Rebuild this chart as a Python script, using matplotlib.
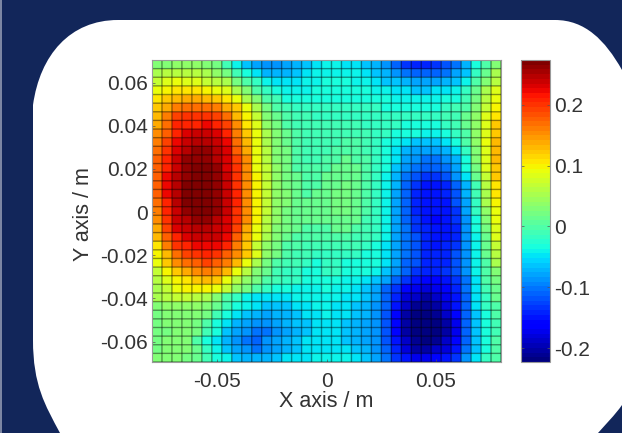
import matplotlib
matplotlib.use('Agg')
import matplotlib.pyplot as plt
import numpy as np
from matplotlib.patches import PathPatch
from matplotlib.path import Path

plt.rcParams['font.family'] = ['Liberation Sans', 'DejaVu Sans']

# field values in hundredths, first row is the top of the map
field = [
    [3,3,4,4,4,3,2,-1,-4,-6,-8,-9,-9,-8,-7,-6,-5,-4,-4,-5,-5,-6,-7,-9,-11,-13,-14,-14,-13,-12,-10,-7,-3,0,3],
    [5,6,6,6,6,5,4,2,-1,-3,-5,-7,-7,-7,-6,-5,-4,-4,-4,-4,-4,-5,-6,-7,-9,-10,-11,-11,-11,-10,-8,-6,-2,1,5],
    [7,8,9,8,8,7,6,5,2,0,-2,-4,-5,-5,-5,-4,-4,-3,-3,-3,-4,-4,-5,-6,-6,-7,-8,-8,-8,-7,-6,-4,0,3,6],
    [9,10,11,11,11,10,9,8,5,3,0,-2,-3,-4,-4,-4,-3,-3,-3,-3,-3,-3,-4,-4,-5,-5,-6,-6,-5,-5,-4,-2,1,5,8],
    [11,12,13,14,14,13,12,11,9,5,3,0,-1,-3,-3,-3,-3,-3,-3,-3,-3,-3,-3,-3,-4,-4,-4,-4,-4,-3,-3,-1,2,6,9],
    [12,14,16,17,17,17,16,14,12,9,5,2,0,-1,-2,-2,-2,-2,-2,-2,-2,-2,-2,-3,-3,-3,-3,-3,-3,-2,-1,0,3,7,10],
    [13,16,19,20,20,20,19,17,13,10,7,3,1,0,-1,-1,-2,-2,-2,-2,-2,-2,-2,-2,-2,-2,-2,-2,-2,-1,-1,1,4,8,11],
    [14,17,21,21,21,22,21,19,15,11,8,4,2,0,-1,-1,-1,-1,-1,-1,-1,-2,-2,-2,-2,-3,-3,-3,-3,-2,-1,1,4,8,12],
    [15,18,21,23,24,24,23,21,16,12,9,5,3,1,0,-1,-1,-1,-1,-1,-1,-1,-2,-2,-3,-3,-3,-4,-4,-3,-2,0,4,8,12],
    [16,19,22,24,25,25,24,22,17,13,9,5,3,1,0,-1,-1,-1,-1,0,0,-1,-2,-3,-4,-5,-6,-6,-6,-5,-3,0,4,9,13],
    [17,20,23,25,26,26,25,23,18,14,9,6,3,2,0,-1,-1,-1,0,0,0,-1,-2,-3,-5,-7,-8,-8,-8,-7,-5,-2,3,8,13],
    [18,21,24,26,26,26,25,23,19,15,9,6,3,2,0,-1,-1,0,0,1,0,0,-2,-3,-5,-8,-9,-10,-10,-9,-7,-3,3,8,13],
    [18,21,24,26,27,27,26,23,20,15,9,7,4,2,0,0,0,0,1,1,1,0,-2,-3,-6,-9,-10,-11,-11,-10,-8,-3,2,8,12],
    [18,22,25,26,27,27,26,24,20,15,10,7,4,2,1,0,0,1,1,1,1,0,-2,-4,-7,-10,-12,-13,-13,-12,-9,-5,1,7,12],
    [18,22,25,27,27,27,26,24,20,15,10,7,4,2,1,0,0,1,1,2,1,0,-2,-4,-7,-11,-13,-15,-15,-14,-11,-7,-1,6,11],
    [18,22,25,27,27,27,26,24,21,15,10,7,4,3,1,0,1,1,2,2,1,0,-2,-4,-8,-11,-14,-15,-15,-14,-12,-7,-1,5,11],
    [17,21,25,27,27,27,26,24,21,15,10,7,4,3,1,1,1,1,2,2,1,0,-2,-4,-8,-11,-14,-15,-15,-15,-12,-8,-2,5,10],
    [16,21,24,26,27,27,26,24,20,15,10,7,4,2,1,1,1,1,2,2,1,0,-2,-4,-8,-11,-14,-15,-15,-15,-13,-8,-2,4,9],
    [15,20,24,25,26,26,25,23,20,15,10,6,4,2,1,1,1,1,1,1,1,-1,-2,-4,-8,-11,-13,-15,-16,-15,-13,-9,-3,3,9],
    [14,19,23,24,25,25,24,23,19,14,9,6,3,2,1,0,0,0,1,1,0,-1,-2,-4,-8,-10,-13,-14,-15,-15,-14,-9,-3,2,8],
    [13,18,21,23,24,24,24,22,18,13,9,5,3,1,0,0,0,0,0,0,-1,-1,-2,-4,-8,-10,-12,-14,-15,-15,-14,-9,-4,1,8],
    [11,16,20,21,22,22,22,21,16,12,7,4,2,0,0,-1,-1,-1,-1,-1,-1,-2,-3,-5,-8,-10,-12,-14,-15,-14,-13,-9,-4,1,7],
    [10,13,17,19,20,21,20,18,15,12,8,4,2,0,-1,-1,-2,-2,-2,-2,-2,-3,-3,-5,-8,-10,-12,-14,-14,-14,-12,-9,-4,1,6],
    [9,12,15,17,18,19,18,16,13,9,5,2,0,-1,-1,-2,-3,-2,-2,-3,-3,-3,-3,-5,-8,-11,-12,-14,-14,-14,-12,-9,-4,0,5],
    [7,10,12,14,15,16,15,13,9,6,3,1,-1,-2,-2,-3,-3,-2,-2,-3,-3,-3,-4,-6,-9,-11,-13,-14,-14,-13,-12,-9,-4,0,3],
    [6,8,10,11,12,13,12,9,6,4,2,0,-1,-2,-2,-3,-3,-3,-3,-4,-4,-5,-6,-8,-11,-13,-15,-16,-16,-15,-13,-10,-5,0,2],
    [5,7,9,10,10,10,9,7,4,2,0,-2,-3,-3,-4,-4,-4,-3,-4,-4,-5,-6,-8,-11,-13,-16,-17,-18,-17,-16,-14,-10,-5,-1,1],
    [5,6,7,7,6,5,3,0,-2,-4,-5,-5,-5,-5,-4,-4,-4,-4,-4,-5,-5,-6,-8,-11,-14,-18,-19,-20,-19,-17,-15,-11,-5,-2,1],
    [3,4,4,4,4,3,1,-1,-3,-4,-5,-6,-6,-6,-5,-5,-4,-4,-5,-5,-6,-7,-9,-11,-15,-19,-21,-21,-20,-18,-15,-11,-5,-2,0],
    [2,3,3,3,3,2,-1,-3,-5,-6,-7,-8,-7,-7,-6,-5,-5,-4,-5,-5,-6,-7,-9,-12,-16,-20,-22,-22,-21,-19,-16,-11,-6,-3,0],
    [2,3,3,3,2,0,-3,-5,-7,-8,-9,-9,-8,-7,-6,-6,-5,-5,-5,-6,-7,-8,-9,-12,-16,-20,-22,-23,-22,-20,-17,-11,-6,-3,-1],
    [2,2,3,3,2,-1,-3,-6,-8,-9,-10,-10,-9,-8,-7,-6,-5,-5,-5,-6,-7,-8,-9,-12,-16,-20,-22,-23,-22,-20,-17,-11,-6,-3,-1],
    [2,3,3,3,0,-3,-5,-7,-9,-10,-11,-9,-8,-7,-6,-5,-5,-5,-5,-6,-7,-8,-9,-12,-15,-19,-21,-22,-21,-19,-16,-11,-6,-3,0],
    [2,3,3,3,1,-2,-4,-6,-8,-9,-10,-9,-8,-7,-6,-5,-5,-5,-5,-5,-6,-7,-9,-11,-14,-18,-20,-20,-19,-18,-15,-10,-6,-3,0],
    [3,3,3,2,1,-1,-3,-4,-6,-7,-7,-7,-6,-5,-5,-5,-4,-4,-4,-4,-5,-6,-8,-10,-13,-15,-17,-17,-16,-15,-13,-9,-5,-2,0],
]
x_ticks = [-0.05, 0, 0.05]
x_labels = ['-0.05', '0', '0.05']
y_ticks = [-0.06, -0.04, -0.02, 0, 0.02, 0.04, 0.06]
y_labels = ['-0.06', '-0.04', '-0.02', '0', '0.02', '0.04', '0.06']
cbar_ticks = [-0.2, -0.1, 0, 0.1, 0.2]
cbar_labels = ['-0.2', '-0.1', '0', '0.1', '0.2']

W, H = 622.0, 433.0
NAVY = '#12265a'
TEXT = '#333333'


def pixel_axes(fig, x0, y0, x1, y1):
    return fig.add_axes([x0 / W, 1 - y1 / H, (x1 - x0) / W, (y1 - y0) / H])


fig = plt.figure(figsize=(6.22, 4.33), dpi=100, facecolor=NAVY)

# slide background with the white rounded panel
bg = fig.add_axes([0, 0, 1, 1], zorder=0)
bg.set_xlim(0, W)
bg.set_ylim(H, 0)
bg.axis('off')
verts = [(33, 105), (40, 55), (70, 20), (118, 20),
         (555, 20), (585, 20), (605, 40), (622, 70),
         (622, 405), (615, 415), (605, 425), (598, 433),
         (60, 433), (45, 405), (33, 385), (33, 340),
         (33, 105)]
codes = [Path.MOVETO, Path.CURVE4, Path.CURVE4, Path.CURVE4,
         Path.LINETO, Path.CURVE4, Path.CURVE4, Path.CURVE4,
         Path.LINETO, Path.CURVE4, Path.CURVE4, Path.CURVE4,
         Path.LINETO, Path.CURVE4, Path.CURVE4, Path.CURVE4,
         Path.CLOSEPOLY]
bg.add_patch(PathPatch(Path(verts, codes), facecolor='white', edgecolor='none'))
bg.axvspan(0, 2, color='#7c86a3', lw=0)

# main map
ax = pixel_axes(fig, 152, 60, 501, 362)
ax.set_zorder(1)
values = np.array(field)[::-1] * 0.01
x_edges = np.linspace(-0.08, 0.08, values.shape[1] + 1)
y_edges = np.linspace(-0.0695, 0.0705, values.shape[0] + 1)
mesh = ax.pcolormesh(x_edges, y_edges, values, cmap=plt.get_cmap('jet', 64),
                     vmin=-0.223, vmax=0.274)
# cell borders, soft like the faceted shading of the original
ax.vlines(x_edges, y_edges[0], y_edges[-1], color='black', alpha=0.42, lw=1.0, snap=False)
ax.hlines(y_edges, x_edges[0], x_edges[-1], color='black', alpha=0.42, lw=1.0, snap=False)
ax.set_xlim(x_edges[0], x_edges[-1])
ax.set_ylim(y_edges[0], y_edges[-1])
ax.set_xticks(x_ticks)
ax.set_xticklabels(x_labels)
ax.set_yticks(y_ticks)
ax.set_yticklabels(y_labels)
ax.tick_params(direction='in', length=2, width=0.5, color='#555555',
               labelsize=15, labelcolor=TEXT, pad=3)
ax.tick_params(axis='x', pad=7)
ax.set_xlabel('X axis / m', fontsize=15.5, color=TEXT)
ax.set_ylabel('Y axis / m', fontsize=15.5, color=TEXT)
ax.xaxis.set_label_coords(0.5, -0.095)
ax.yaxis.set_label_coords(-0.166, 0.49)
for spine in ax.spines.values():
    spine.set_color('#999999')
    spine.set_linewidth(0.8)

# colour bar
cax = pixel_axes(fig, 521, 60, 550, 362)
cax.set_zorder(1)
cbar = fig.colorbar(mesh, cax=cax)
cbar.set_ticks(cbar_ticks)
cbar.set_ticklabels(cbar_labels)
cbar.ax.tick_params(direction='in', length=2, width=0.5, color='#555555', left=True,
                    labelsize=15, labelcolor=TEXT, pad=3)
cbar.outline.set_edgecolor('#999999')
cbar.outline.set_linewidth(0.8)

fig.savefig('out.png', dpi=100, facecolor=NAVY)
